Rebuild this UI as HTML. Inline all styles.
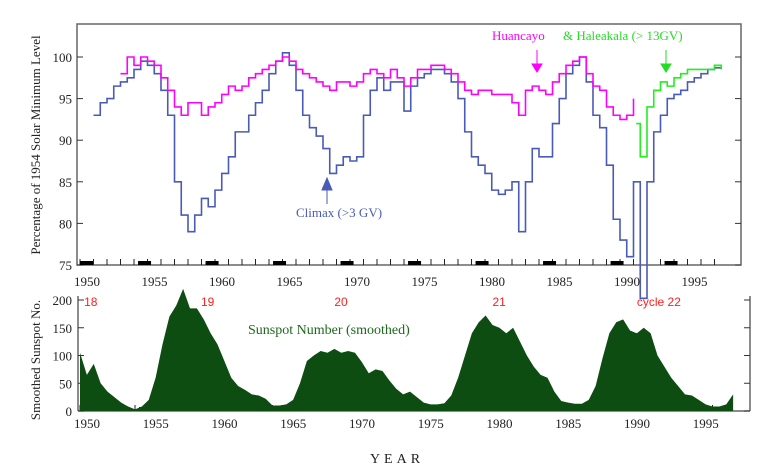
<!DOCTYPE html>
<html><head><meta charset="utf-8"><style>
body{margin:0;background:#fff;}
svg{display:block;font-family:"Liberation Serif",serif;}
</style></head><body>
<svg id="c" width="774" height="467"></svg>
<script>
const climaxYears=[1951,1951.5,1952,1952.5,1953,1953.5,1954,1954.5,1955,1955.5,1956,1956.5,1957,1957.5,1958,1958.5,1959,1959.5,1960,1960.5,1961,1961.5,1962,1962.5,1963,1963.5,1964,1964.5,1965,1965.5,1966,1966.5,1967,1967.5,1968,1968.5,1969,1969.5,1970,1970.5,1971,1971.5,1972,1972.5,1973,1973.5,1974,1974.5,1975,1975.5,1976,1976.5,1977,1977.5,1978,1978.5,1979,1979.5,1980,1980.5,1981,1981.5,1982,1982.5,1983,1983.5,1984,1984.5,1985,1985.5,1986,1986.5,1987,1987.5,1988,1988.5,1989,1989.5,1990,1990.5,1991,1991.5,1992,1992.5,1993,1993.5,1994,1994.5,1995,1995.5,1996,1996.5,1997,1997.5];
const climaxVals=[93,94.5,95,96.5,97,97.5,98.5,99.5,99,98,96,93,85,81,79,81,83,82,84,86,88,91,91,93,94.5,96,98,99.5,100.5,99,96,93,91.5,90.5,89,86,87,88,87.5,88,93,96,97.5,96,97,97,93.5,96.5,97.5,98,98.5,98.5,98,97,95,91,88,87,86,84,83.5,84,85,79,85,89,88,88,92,95,98,99,100,97,93,91.5,87,80.5,78,76,85,71,85,91,93,95,95.5,96,97,97.5,98,98.5,98.7,98.5];
const huanYears=[1953,1953.5,1954,1954.5,1955,1955.5,1956,1956.5,1957,1957.5,1958,1958.5,1959,1959.5,1960,1960.5,1961,1961.5,1962,1962.5,1963,1963.5,1964,1964.5,1965,1965.5,1966,1966.5,1967,1967.5,1968,1968.5,1969,1969.5,1970,1970.5,1971,1971.5,1972,1972.5,1973,1973.5,1974,1974.5,1975,1975.5,1976,1976.5,1977,1977.5,1978,1978.5,1979,1979.5,1980,1980.5,1981,1981.5,1982,1982.5,1983,1983.5,1984,1984.5,1985,1985.5,1986,1986.5,1987,1987.5,1988,1988.5,1989,1989.5,1990,1990.5,1991];
const huanVals=[98,100,99,100,99.5,99,97.5,96,94,93,94.5,94.5,93,94,94.5,95.5,96.5,96,96.5,97.5,98,98.5,99,99.5,100,99.5,98.5,98,97.5,97,96.5,96,97,97,96.5,97,98,98.5,98,97.5,98.5,97.5,96.5,97.5,98.5,98.5,99,99,98.5,98,97,96,95.5,96,96,95.5,95.5,95.5,94.5,93,96,96.5,96,95.5,97,98,99,99.5,100,98,96.5,96,94,93,92.5,93,95];
const haleYears=[1991.2,1991.5,1992,1992.5,1993,1993.5,1994,1994.5,1995,1995.5,1996,1996.5,1997,1997.5];
const haleVals=[92,88,94,96,97,96.5,97.5,98,98.5,98.5,98.5,98.5,99,98.5];
const sunYears=[];for(let y=1950;y<=1997.5;y+=0.5)sunYears.push(y);
const sunVals=[105,65,85,50,35,25,15,8,3,8,20,60,120,170,190,220,185,185,165,140,120,90,60,45,38,30,28,22,10,10,12,20,50,90,100,108,105,112,105,108,105,88,68,75,72,55,40,30,35,25,15,12,12,14,28,60,100,140,160,172,155,150,140,150,125,100,80,65,60,35,18,15,13,13,20,45,95,140,160,165,145,140,150,140,100,80,60,45,30,28,20,12,8,8,12,30];
const topYTicks=[75,80,85,90,95,100];
const botYTicks=[0,50,100,150,200];
const xTickYears=[1950,1955,1960,1965,1970,1975,1980,1985,1990,1995];

const NS="http://www.w3.org/2000/svg";
const svg=document.getElementById('c');
function el(t,a,p){const e=document.createElementNS(NS,t);for(const k in a)e.setAttribute(k,a[k]);(p||svg).appendChild(e);return e;}
const xT=y=>80+(y-1950)*13.5;
const yT=v=>265-(v-75)*8.32;
const xB=y=>80+(y-1950)*13.75;
const yB=v=>411-v*0.555;

// top frame
let f=el('rect',{x:77,y:24,width:664,height:241,fill:'none',stroke:'#666','stroke-width':1.5});

topYTicks.forEach(v=>{
  let t=el('text',{x:72,y:yT(v)+5,'text-anchor':'end','font-size':13,fill:'#222'});t.textContent=v;
  
  el('line',{x1:77,x2:83,y1:yT(v),y2:yT(v),stroke:'#333'});
  el('line',{x1:735,x2:741,y1:yT(v),y2:yT(v),stroke:'#333'});
});
for(let y=1950;y<=1997;y++){el('line',{x1:xT(y),x2:xT(y),y1:259,y2:265,stroke:'#222'});
 el('line',{x1:xB(y),x2:xB(y),y1:405,y2:411,stroke:'#222'});}
[1950,1954.3,1959.3,1964.3,1969.3,1974.3,1979.3,1984.3,1989.3,1993.3].forEach(y=>{
 el('rect',{x:xT(y),y:261,width:13,height:4,fill:'#000'});
 el('rect',{x:xB(y),y:407,width:13,height:4,fill:'#000'});});
xTickYears.forEach(y=>{
 let t=el('text',{x:xT(y)+7,y:286,'text-anchor':'middle','font-size':13,fill:'#222'});t.textContent=y;
 
 let b=el('text',{x:xB(y)+7,y:428,'text-anchor':'middle','font-size':13,fill:'#222'});b.textContent=y;
 
});
function step(xs,vs,xf,yf){let d='M'+xf(xs[0])+','+yf(vs[0]);for(let i=1;i<xs.length;i++){d+='H'+xf(xs[i])+'V'+yf(vs[i]);}return d;}
let pc=el('path',{d:step(climaxYears,climaxVals,xT,yT),fill:'none',stroke:'#4a5ab8','stroke-width':1.6});

let ph=el('path',{d:step(huanYears,huanVals,xT,yT),fill:'none',stroke:'#ff00ff','stroke-width':1.6});

let pg=el('path',{d:step(haleYears,haleVals,xT,yT),fill:'none',stroke:'#22ee22','stroke-width':1.6});


let yl=el('text',{transform:'translate(40,145) rotate(-90)','text-anchor':'middle','font-size':13,fill:'#222'});yl.textContent='Percentage of 1954 Solar Minimum Level';

let lh=el('text',{x:492,y:40,'font-size':13,fill:'#ff00ff'});lh.textContent='Huancayo ';

let lg=el('text',{x:563,y:40,'font-size':13,fill:'#22dd22'});lg.textContent='& Haleakala (> 13GV)';

el('path',{d:'M537,50V70M532,64L537,72L542,64Z',stroke:'#ff00ff',fill:'#ff00ff'});
el('path',{d:'M666,50V70M661,64L666,72L671,64Z',stroke:'#22dd22',fill:'#22dd22'});
let lc=el('text',{x:296,y:217,'font-size':13,fill:'#4a5ab8'});lc.textContent='Climax (>3 GV)';

el('path',{d:'M327,204V184M322,190L327,178L332,190Z',stroke:'#4a5ab8',fill:'#4a5ab8'});

// bottom
el('line',{x1:78,x2:78,y1:296,y2:411,stroke:'#666','stroke-width':1.5});
el('line',{x1:750,x2:750,y1:296,y2:411,stroke:'#666','stroke-width':1.5});
el('line',{x1:78,x2:750,y1:411,y2:411,stroke:'#666','stroke-width':1.5});
botYTicks.forEach(v=>{
 let t=el('text',{x:72,y:yB(v)+5,'text-anchor':'end','font-size':13,fill:'#222'});t.textContent=v;
 
 el('line',{x1:78,x2:84,y1:yB(v),y2:yB(v),stroke:'#333'});
 el('line',{x1:744,x2:750,y1:yB(v),y2:yB(v),stroke:'#333'});
});
let d='M'+xB(sunYears[0])+','+yB(0);
sunYears.forEach((y,i)=>{d+='L'+xB(y)+','+yB(sunVals[i]);});
d+='L'+xB(sunYears[sunYears.length-1])+','+yB(0)+'Z';
let ps=el('path',{d:d,fill:'#0d4d12'});

[['18',1950.3],['19',1958.8],['20',1968.5],['21',1980],['cycle 22',1990.5]].forEach(c=>{
 let t=el('text',{x:xB(c[1]),y:306,'font-size':12,fill:'#ff2020','font-family':'Liberation Sans, sans-serif'});t.textContent=c[0];
 });
let sl=el('text',{x:248,y:334,'font-size':14,fill:'#1a6a1a'});sl.textContent='Sunspot Number (smoothed)';

let by=el('text',{transform:'translate(40,360) rotate(-90)','text-anchor':'middle','font-size':13,fill:'#222'});by.textContent='Smoothed Sunspot No.';

let xt=el('text',{x:397,y:463,'text-anchor':'middle','font-size':14,fill:'#222','letter-spacing':'4'});xt.textContent='YEAR';

</script>
</body></html>
